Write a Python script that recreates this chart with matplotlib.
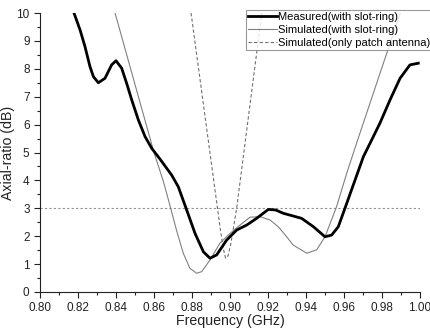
import matplotlib
matplotlib.use("Agg")
import matplotlib.pyplot as plt
from matplotlib.ticker import MultipleLocator

plt.rcParams['font.family'] = ['Liberation Sans', 'DejaVu Sans']

meas_x = [0.8179, 0.8211, 0.8237, 0.8263, 0.8281, 0.8307, 0.8342, 0.8377, 0.8400, 0.8430,
          0.8456, 0.8483, 0.8518, 0.8553, 0.8588, 0.8632, 0.8693, 0.8728, 0.8772, 0.8816,
          0.8860, 0.8895, 0.8930, 0.8982, 0.9035, 0.9088, 0.9140, 0.9202, 0.9240, 0.9281,
          0.9377, 0.9439, 0.9500, 0.9535, 0.9570, 0.9605, 0.9658, 0.9702, 0.9737, 0.9789,
          0.9842, 0.9895, 0.9947, 0.9991]
meas_y = [10.0, 9.39, 8.79, 8.08, 7.72, 7.50, 7.66, 8.14, 8.29, 8.02,
          7.48, 6.88, 6.16, 5.57, 5.15, 4.76, 4.19, 3.77, 2.94, 2.10,
          1.44, 1.21, 1.33, 1.86, 2.22, 2.40, 2.64, 2.96, 2.94, 2.82,
          2.64, 2.34, 1.98, 2.04, 2.34, 3.00, 4.01, 4.85, 5.33, 6.05,
          6.88, 7.66, 8.14, 8.20]

simr_x = [0.8395, 0.8600, 0.8650, 0.8684, 0.8719, 0.8754, 0.8789, 0.8825, 0.8851, 0.8895,
          0.8947, 0.9000, 0.9053, 0.9105, 0.9158, 0.9211, 0.9254, 0.9290, 0.9333, 0.9404,
          0.9456, 0.9500, 0.9561, 0.9614, 0.9667, 0.9825, 0.9896]
simr_y = [10.0, 5.00, 3.95, 3.10, 2.20, 1.39, 0.85, 0.67, 0.73, 1.15,
          1.75, 2.10, 2.40, 2.68, 2.70, 2.58, 2.34, 2.05, 1.68, 1.39,
          1.51, 1.98, 3.06, 4.25, 5.35, 8.56, 10.0]

patch_x = [0.8795, 0.8950, 0.8965, 0.8977, 0.8990, 0.9005, 0.9035, 0.9140, 0.9167]
patch_y = [10.0, 2.20, 1.55, 1.21, 1.30, 1.75, 3.00, 8.55, 10.0]

ref_level = 3
x_ticks = [0.80, 0.82, 0.84, 0.86, 0.88, 0.90, 0.92, 0.94, 0.96, 0.98, 1.00]
y_ticks = list(range(0, 11))

fig = plt.figure(figsize=(4.3, 3.28), dpi=100)
ax = fig.add_axes([40/430, 1-292/328, 380/430, 279/328])

ax.plot(meas_x, meas_y, color='black', lw=2.0, label='Measured(with slot-ring)', zorder=4,
        solid_joinstyle='round')
ax.plot(simr_x, simr_y, color='#808080', lw=0.8, label='Simulated(with slot-ring)', zorder=3)
ax.plot(patch_x, patch_y, color='#707070', lw=0.8, ls=(0, (3, 2)),
        label='Simulated(only patch antenna)', zorder=3)
ax.axhline(ref_level, color='#909090', lw=0.8, ls=(0, (2, 2)), zorder=2)

ax.set_xlim(0.80, 1.00)
ax.set_ylim(0, 10)
ax.set_xticks(x_ticks)
ax.set_xticklabels([f'{v:.2f}' for v in x_ticks])
ax.set_yticks(y_ticks)
ax.xaxis.set_minor_locator(MultipleLocator(0.01))
ax.yaxis.set_minor_locator(MultipleLocator(0.5))
ax.tick_params(which='major', direction='out', length=4, width=0.8, labelsize=8.5, colors='#222222')
ax.tick_params(which='minor', direction='out', length=2, width=0.8, colors='#222222')
for s in ['top', 'right']:
    ax.spines[s].set_visible(False)
for s in ['left', 'bottom']:
    ax.spines[s].set_color('#222222')
    ax.spines[s].set_linewidth(0.8)

ax.set_xlabel('Frequency (GHz)', fontsize=10.2, labelpad=0, color='#222222')
ax.set_ylabel('Axial-ratio (dB)', fontsize=10.2, labelpad=1, color='#222222')

leg = ax.legend(loc='upper left', bbox_to_anchor=(246/430, 1-10/328), bbox_transform=fig.transFigure,
                fontsize=8.0, frameon=True, fancybox=False, borderpad=0.15, handlelength=2.6,
                handletextpad=0.1, labelspacing=0.3, borderaxespad=0)
leg.get_frame().set_edgecolor('#808080')
leg.get_frame().set_linewidth(0.8)

fig.savefig('out.png', dpi=100)
